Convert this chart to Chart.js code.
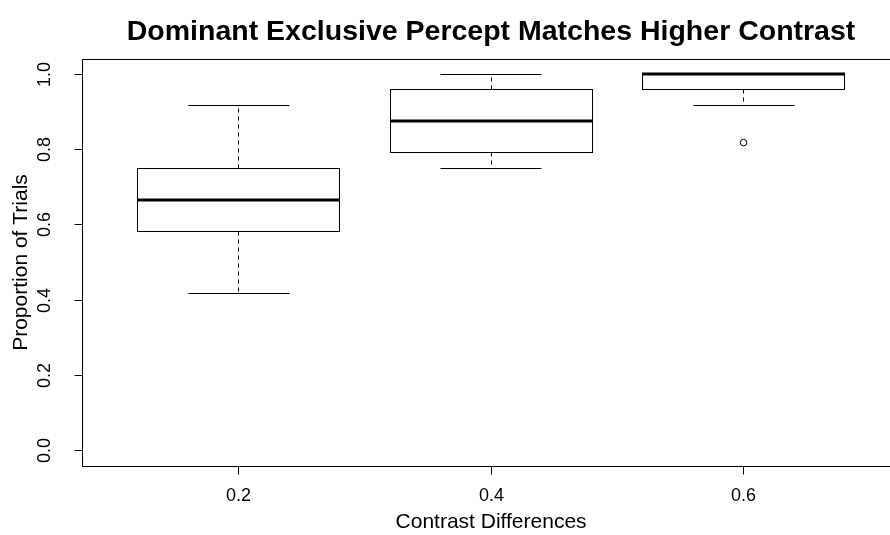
<!DOCTYPE html>
<html>
<head>
<meta charset="utf-8">
<script src="https://cdn.jsdelivr.net/npm/chart.js@4/dist/chart.umd.min.js"></script>
<style>
  html, body { margin: 0; padding: 0; background: #ffffff; }
  #wrap { width: 890px; height: 535px; position: relative; }
</style>
</head>
<body>
<div id="wrap"><canvas id="chart" width="890" height="535"></canvas></div>
<script>
// Groups on the x axis (contrast difference) and their five-number summaries
const categories   = ['0.2', '0.4', '0.6'];
const whiskerLow   = [0.4167, 0.75,   0.9167];
const quartile1    = [0.5833, 0.7917, 0.9583];
const medians      = [0.6667, 0.875,  1.0];
const quartile3    = [0.75,   0.9583, 1.0];
const whiskerHigh  = [0.9167, 1.0,    1.0];
// Points beyond the whiskers, per group
const outliers     = [[], [], [0.8182]];
// Y axis tick labels
const yTickLabels  = ['0.0', '0.2', '0.4', '0.6', '0.8', '1.0'];

const titleText  = 'Dominant Exclusive Percept Matches Higher Contrast';
const xAxisTitle = 'Contrast Differences';
const yAxisTitle = 'Proportion of Trials';

const FONT = "'Liberation Sans', Arial, Helvetica, sans-serif";

const outlierPoints = [];
outliers.forEach((vals, i) => vals.forEach(v => outlierPoints.push({ x: i + 1, y: v })));

const crisp = v => Math.round(v - 0.5) + 0.5;

// Draws frame, axes, boxes and text on top of the scales
const boxplotPlugin = {
  id: 'boxplot',
  beforeDatasetsDraw(chart) {
    const ctx = chart.ctx;
    const xs = chart.scales.x, ys = chart.scales.y;
    ctx.save();
    ctx.strokeStyle = '#000';
    ctx.lineWidth = 1;
    ctx.fillStyle = '#fff';

    categories.forEach((c, i) => {
      const pos = i + 1;
      const cx = crisp(xs.getPixelForValue(pos));
      const bl = crisp(xs.getPixelForValue(pos - 0.4));
      const br = crisp(xs.getPixelForValue(pos + 0.4));
      const cl = crisp(xs.getPixelForValue(pos - 0.2));
      const cr = crisp(xs.getPixelForValue(pos + 0.2));
      const yq1 = crisp(ys.getPixelForValue(quartile1[i]));
      const yq3 = crisp(ys.getPixelForValue(quartile3[i]));
      const ymed = ys.getPixelForValue(medians[i]);
      const ylo = crisp(ys.getPixelForValue(whiskerLow[i]));
      const yhi = crisp(ys.getPixelForValue(whiskerHigh[i]));

      // dashed whiskers
      ctx.setLineDash([4, 4]);
      ctx.beginPath();
      if (yhi < yq3) { ctx.moveTo(cx, yq3); ctx.lineTo(cx, yhi); }
      if (ylo > yq1) { ctx.moveTo(cx, yq1); ctx.lineTo(cx, ylo); }
      ctx.stroke();
      ctx.setLineDash([]);

      // staples
      ctx.beginPath();
      ctx.moveTo(cl, yhi); ctx.lineTo(cr, yhi);
      ctx.moveTo(cl, ylo); ctx.lineTo(cr, ylo);
      ctx.stroke();

      // box
      ctx.fillRect(bl, yq3, br - bl, yq1 - yq3);
      ctx.strokeRect(bl, yq3, br - bl, yq1 - yq3);

      // median
      ctx.lineWidth = 3;
      ctx.beginPath();
      ctx.moveTo(bl - 0.5, Math.round(ymed));
      ctx.lineTo(br + 0.5, Math.round(ymed));
      ctx.stroke();
      ctx.lineWidth = 1;
    });
    ctx.restore();
  },
  afterDraw(chart) {
    const ctx = chart.ctx;
    const xs = chart.scales.x, ys = chart.scales.y;
    const area = chart.chartArea;
    const left = crisp(area.left), top = crisp(area.top), bottom = crisp(area.bottom);
    const right = crisp(xs.getPixelForValue(3.62));
    ctx.save();
    ctx.strokeStyle = '#000';
    ctx.lineWidth = 1;

    // plot frame
    ctx.strokeRect(left, top, right - left, bottom - top);

    // y ticks and labels
    ctx.fillStyle = '#000';
    ctx.font = '18px ' + FONT;
    ctx.textAlign = 'center';
    ctx.textBaseline = 'middle';
    yTickLabels.forEach(lbl => {
      const y = crisp(ys.getPixelForValue(parseFloat(lbl)));
      ctx.beginPath();
      ctx.moveTo(left - 8, y); ctx.lineTo(left, y);
      ctx.stroke();
      ctx.save();
      ctx.translate(left - 37, y);
      ctx.rotate(-Math.PI / 2);
      ctx.fillText(lbl, 0, 0);
      ctx.restore();
    });

    // x ticks and labels
    categories.forEach((lbl, i) => {
      const x = crisp(xs.getPixelForValue(i + 1));
      ctx.beginPath();
      ctx.moveTo(x, bottom); ctx.lineTo(x, bottom + 8);
      ctx.stroke();
      ctx.fillText(lbl, x, bottom + 30);
    });

    const plotMid = (xs.getPixelForValue(0.38) + xs.getPixelForValue(3.62)) / 2;

    // axis titles
    ctx.font = '21px ' + FONT;
    ctx.fillText(xAxisTitle, plotMid, bottom + 56);
    ctx.save();
    ctx.translate(21, (area.top + area.bottom) / 2);
    ctx.rotate(-Math.PI / 2);
    ctx.fillText(yAxisTitle, 0, 0);
    ctx.restore();

    // main title
    ctx.font = 'bold 28.5px ' + FONT;
    ctx.fillText(titleText, plotMid, 32);
    ctx.restore();
  }
};

new Chart(document.getElementById('chart'), {
  type: 'scatter',
  data: {
    datasets: [{
      label: 'outliers',
      data: outlierPoints,
      pointStyle: 'circle',
      pointRadius: 3.3,
      pointBorderWidth: 1,
      pointBorderColor: '#000',
      pointBackgroundColor: 'rgba(0,0,0,0)'
    }]
  },
  options: {
    responsive: false,
    animation: false,
    layout: { autoPadding: false, padding: { left: 82, top: 59, right: 0, bottom: 69 } },
    scales: {
      x: { type: 'linear', min: 0.38, max: 3.58, display: false },
      y: { type: 'linear', min: -0.04, max: 1.04, display: false }
    },
    plugins: {
      legend: { display: false },
      tooltip: { enabled: false },
      title: { display: false }
    }
  },
  plugins: [boxplotPlugin]
});
</script>
</body>
</html>
